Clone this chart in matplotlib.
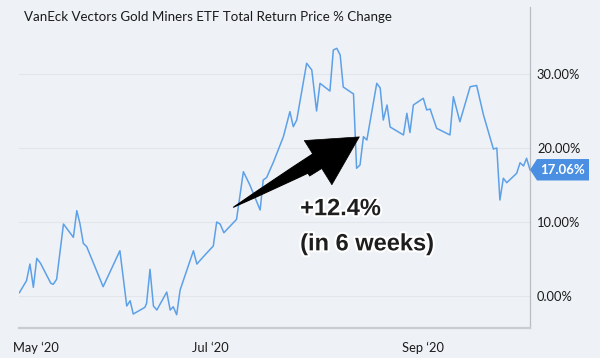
import matplotlib
matplotlib.use("Agg")
import matplotlib.pyplot as plt
import matplotlib.transforms as mtransforms
import matplotlib.patheffects as pe
from matplotlib.patches import Polygon
import pandas as pd

BG = "#EEF2F6"; LINE = "#5DA0E8"; BADGE = "#4A8FE2"; INK = "#1A1A1A"
FONT = ["Lato", "DejaVu Sans"]

# GDX total return % change (days after 6 May 2020)
START = pd.Timestamp("2020-05-06")
days = [0.1, 2.2, 3.2, 4.2, 5.2, 6.3, 9.3, 10.0, 11.0, 13.0, 15.9, 16.9, 17.8,
        18.8, 19.8, 24.6, 29.5, 31.5, 32.5, 33.4, 36.8, 37.3, 38.3, 39.3, 40.3,
        43.2, 44.2, 45.1, 46.1, 47.1, 51.0, 52.0, 53.9, 56.8, 57.8, 58.8, 59.9,
        63.6, 65.6, 67.5, 70.5, 71.4, 72.4, 74.4, 77.3, 79.2, 80.2, 81.2, 84.1,
        85.6, 87.0, 88.0, 90.9, 91.9, 92.9, 93.9, 94.8, 97.8, 98.7, 99.7, 100.7,
        101.7, 104.6, 105.6, 106.5, 107.6, 108.5, 112.4, 113.4, 114.3, 115.3,
        118.2, 119.2, 120.2, 122.1, 126.0, 127.0, 128.9, 131.9, 133.8, 135.8,
        138.7, 139.7, 140.6, 141.6, 142.6, 145.5, 146.5, 147.5, 148.4, 149.4]
pct = [0.45, 2.07, 4.32, 1.18, 5.09, 4.42, 1.72, 1.58, 2.26, 9.73, 7.93, 11.53,
       9.82, 7.12, 6.66, 1.26, 6.12, -1.35, -0.64, -2.43, -1.53, -0.99, 3.61,
       -1.35, -1.89, 0.54, -1.89, -1.45, -2.53, 0.81, 6.12, 4.32, 5.31, 6.76,
       10.0, 9.73, 8.55, 10.36, 16.8, 15.0, 11.62, 15.68, 16.01, 18.11, 21.53,
       24.91, 22.88, 23.78, 31.45, 30.54, 25.0, 28.74, 27.7, 33.24, 33.47, 32.57,
       28.24, 27.3, 17.26, 17.7, 21.53, 21.08, 28.74, 28.11, 23.78, 25.81, 22.84,
       21.76, 24.69, 22.09, 25.81, 26.72, 25.14, 25.27, 22.66, 21.76, 26.93,
       23.55, 28.28, 28.45, 24.46, 19.86, 20.0, 12.97, 15.91, 15.31, 16.58,
       18.01, 17.57, 18.61, 17.06]
last_value = 17.06

tick_dates = ["2020-05-11", "2020-07-01", "2020-09-01"]
tick_labels = ["May \u201820", "Jul \u201820", "Sep \u201820"]
y_ticks = [0, 10, 20, 30]

# callout arrow (days, %): tapered shaft tail -> head base -> tip
ARROW_TAIL = (62.7, 12.0)
ARROW_BASE = (87.0, 18.3)
ARROW_NECK = (83.9, 17.0)
ARROW_TIP = (99.5, 21.5)
NOTE_AT = (82.2, 11.8)
NOTE_1, NOTE_2 = "+12.4%", "(in 6 weeks)"

dates = START + pd.to_timedelta(days, unit="D")
day = lambda d: START + pd.Timedelta(days=d)
pt = lambda p: (day(p[0]), p[1])

fig = plt.figure(figsize=(6, 3.58), dpi=100, facecolor=BG)
ax = fig.add_axes([19 / 600, 1 - 328 / 358, 511 / 600, 321 / 358], facecolor=BG)
ax.plot(dates, pct, color=LINE, lw=1.1, zorder=3)

ax.set_xlim(day(0), day(149.4))
ax.set_ylim(-4.32, 39.05)
ax.set_yticks(y_ticks)
ax.set_yticklabels([f"{v:.2f}%" for v in y_ticks])
ax.yaxis.tick_right()
ax.set_xticks(pd.to_datetime(tick_dates))
ax.set_xticklabels(tick_labels)
ax.tick_params(axis="both", length=0, labelsize=9.3, colors=INK)
ax.tick_params(axis="y", pad=5)
ax.tick_params(axis="x", pad=10)
for lab in ax.get_xticklabels() + ax.get_yticklabels():
    lab.set_family(FONT)
ax.grid(axis="y", color="#E2E6EB", lw=0.8)
for s in ("top", "left"):
    ax.spines[s].set_visible(False)
ax.spines["bottom"].set_color("#C9CDD2"); ax.spines["bottom"].set_linewidth(1.6)
ax.spines["right"].set_color("#B9BDC2"); ax.spines["right"].set_linewidth(0.9)

# last-value badge
bt = mtransforms.blended_transform_factory(ax.transAxes, ax.transData)
h = 1.45
ax.add_patch(Polygon([(1.0, last_value), (1.0137, last_value + h), (1.1155, last_value + h),
                      (1.1155, last_value - h), (1.0137, last_value - h)],
                     closed=True, transform=bt, facecolor=BADGE, edgecolor="none",
                     clip_on=False, zorder=4))
ax.text(1.0646, last_value, f"{last_value:.2f}%", transform=bt, ha="center", va="center",
        color="white", fontsize=9.5, fontweight="bold", family=FONT, zorder=5)

# callout arrow: wedge shaft (wide at head, pointed at tail) + big head
ax.annotate("", xy=pt(ARROW_TAIL), xytext=pt(ARROW_BASE),
            arrowprops=dict(arrowstyle="wedge,tail_width=1.1,shrink_factor=0.55",
                            mutation_scale=10, facecolor="black", edgecolor="black",
                            lw=0.8, shrinkA=0, shrinkB=0), zorder=6)
ax.annotate("", xy=pt(ARROW_TIP), xytext=pt(ARROW_NECK),
            arrowprops=dict(arrowstyle="simple,head_length=3.5,head_width=3.75,tail_width=1.0",
                            mutation_scale=10, facecolor="black", edgecolor="black",
                            lw=0.5, shrinkA=0, shrinkB=0), zorder=6)
glow = [pe.withStroke(linewidth=3, foreground="white")]
for i, t in enumerate((NOTE_1, NOTE_2)):
    ax.text(day(NOTE_AT[0]), NOTE_AT[1] - i * 4.75, t, ha="left", va="center",
            fontsize=17, fontweight="bold", family="Liberation Sans", color="#1E1E1E",
            path_effects=glow, zorder=7)

fig.text(24 / 600, 1 - 17 / 358, "VanEck Vectors Gold Miners ETF Total Return Price % Change",
         ha="left", va="center", fontsize=9.6, family=FONT, color=INK)

fig.savefig("out.png", dpi=100, facecolor=BG)
